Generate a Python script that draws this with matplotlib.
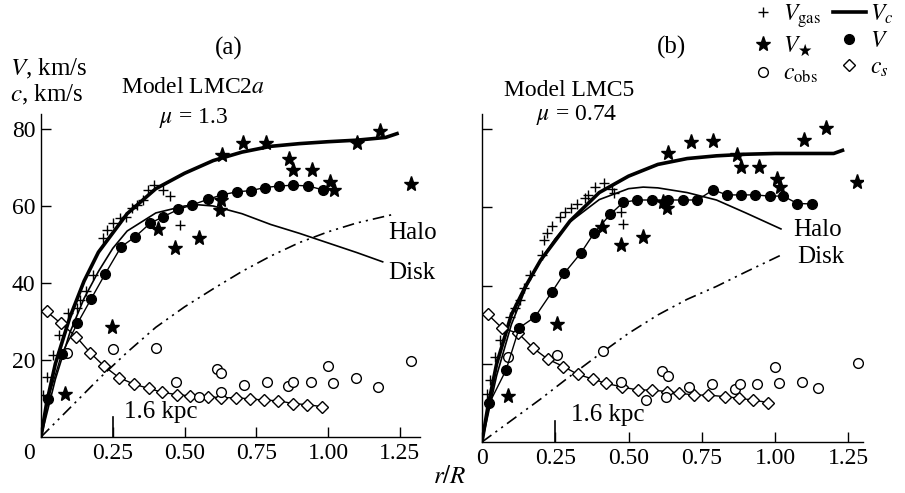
###################################################
# rotation curves of LMC models (a) LMC2a and (b) LMC5
###################################################
import matplotlib.pyplot as plt
from matplotlib.lines import Line2D
import matplotlib.transforms as mtransforms

plt.rcParams['font.family'] = ['Liberation Serif', 'DejaVu Serif']
plt.rcParams['mathtext.fontset'] = 'stix'

# ---------------- panel (a): Model LMC2a ----------------
a_v_r = [0.025, 0.072, 0.127, 0.174, 0.223, 0.279, 0.328, 0.380, 0.425, 0.478, 0.527,
         0.580, 0.630, 0.684, 0.731, 0.780, 0.830, 0.879, 0.931, 0.981]
a_v = [9.9, 21.6, 29.5, 35.8, 42.3, 49.4, 52.0, 55.5, 57.2, 59.1, 60.3,
       61.7, 62.9, 63.7, 64.0, 64.8, 65.2, 65.4, 65.2, 64.2]

a_star_r = [0.084, 0.246, 0.409, 0.467, 0.552, 0.624, 0.627, 0.630, 0.705, 0.783, 0.865,
            0.879, 0.943, 1.007, 1.019, 1.102, 1.179, 1.288]
a_star = [11.1, 28.7, 53.9, 49.0, 51.8, 59.0, 61.6, 73.2, 76.4, 76.4, 72.1,
          69.4, 69.4, 66.3, 64.2, 76.4, 79.4, 65.6]

a_gas_r = [0.008, 0.020, 0.043, 0.064, 0.095, 0.124, 0.136, 0.157, 0.180, 0.217, 0.231,
           0.252, 0.275, 0.296, 0.316, 0.333, 0.354, 0.374, 0.394, 0.426, 0.449, 0.484]
a_gas = [10.9, 15.7, 21.3, 26.5, 32.1, 33.5, 35.6, 37.8, 42.1, 51.6, 53.8,
         55.5, 56.8, 57.2, 59.4, 60.3, 61.6, 64.2, 65.5, 64.2, 62.6, 55.1]

a_cobs_r = [0.089, 0.250, 0.401, 0.469, 0.552, 0.612, 0.626, 0.626, 0.708, 0.786, 0.862,
            0.877, 0.941, 1.001, 1.016, 1.098, 1.175, 1.288]
a_cobs = [21.9, 22.8, 23.0, 14.4, 10.5, 17.6, 16.7, 11.8, 13.4, 14.4, 13.2,
          14.4, 14.4, 18.4, 13.9, 15.2, 13.1, 19.7]

a_cs_r = [0.020, 0.069, 0.122, 0.171, 0.220, 0.272, 0.325, 0.376, 0.423, 0.473, 0.519,
          0.580, 0.627, 0.679, 0.728, 0.775, 0.827, 0.877, 0.926, 0.978]
a_cs = [32.6, 29.5, 26.1, 21.9, 18.4, 15.4, 13.7, 12.6, 11.6, 11.0, 10.7,
        10.5, 10.2, 10.2, 9.9, 9.6, 9.4, 8.7, 8.4, 7.9]

a_vc_r = [0, 0.02, 0.05, 0.1, 0.15, 0.2, 0.3, 0.4, 0.5, 0.6, 0.7, 0.8, 0.9, 1.0, 1.1, 1.2, 1.24]
a_vc = [0, 9, 19, 31, 40.5, 48, 58, 64.5, 68.5, 71.8, 74, 75.5, 76.2, 76.7, 77.1, 77.8, 78.8]

a_disk_r = [0, 0.05, 0.1, 0.15, 0.2, 0.25, 0.3, 0.4, 0.5, 0.55, 0.6, 0.7, 0.8, 0.9, 1.0, 1.1, 1.19]
a_disk = [0, 15, 27, 36, 43, 49, 53.5, 58.2, 60.0, 60.3, 60.0, 58.0, 55.2, 52.9, 50.4, 47.9, 45.5]

a_halo_r = [0, 0.1, 0.2, 0.3, 0.4, 0.5, 0.6, 0.7, 0.8, 0.9, 1.0, 1.1, 1.22]
a_halo = [0, 7.5, 15, 22, 28.5, 33.8, 38.5, 43, 47, 50.5, 53.3, 55.6, 57.7]

# ---------------- panel (b): Model LMC5 ----------------
b_v_r = [0.025, 0.082, 0.127, 0.181, 0.238, 0.280, 0.337, 0.382, 0.437, 0.482, 0.530,
         0.579, 0.636, 0.687, 0.735, 0.789, 0.835, 0.883, 0.932, 0.981, 1.028, 1.076, 1.125]
b_v = [9.9, 18.4, 29.2, 32.0, 38.3, 43.1, 48.3, 53.4, 58.2, 61.3, 61.9,
       61.9, 61.9, 61.9, 61.9, 64.5, 63.2, 63.2, 63.2, 62.9, 62.9, 61.0, 60.9]

b_star_r = [0.090, 0.255, 0.408, 0.473, 0.551, 0.617, 0.630, 0.636, 0.713, 0.789, 0.871,
            0.883, 0.945, 1.006, 1.017, 1.099, 1.174, 1.281]
b_star = [11.8, 30.2, 55.1, 50.4, 52.5, 61.5, 59.8, 73.8, 76.8, 77.1, 73.4,
          70.4, 70.4, 67.2, 65.1, 77.2, 80.2, 66.6]

b_gas_r = [0.016, 0.027, 0.044, 0.061, 0.096, 0.113, 0.130, 0.143, 0.164, 0.204, 0.212,
           0.221, 0.238, 0.266, 0.283, 0.303, 0.323, 0.352, 0.363, 0.386, 0.416, 0.445,
           0.451, 0.473, 0.482]
b_gas = [12.4, 15.9, 21.8, 26.1, 32.0, 34.2, 36.3, 39.3, 42.7, 47.8, 51.7,
         53.4, 55.2, 57.6, 58.9, 59.8, 60.8, 62.3, 63.2, 65.1, 66.2, 64.6,
         63.6, 58.9, 55.8]

b_cobs_r = [0.090, 0.257, 0.412, 0.473, 0.560, 0.613, 0.636, 0.628, 0.708, 0.786, 0.863,
            0.881, 0.940, 1.000, 1.015, 1.091, 1.148, 1.284]
b_cobs = [21.7, 22.3, 23.3, 15.4, 10.7, 18.2, 17.0, 11.4, 14.0, 14.8, 13.6,
          14.8, 14.8, 19.1, 15.0, 15.4, 13.7, 20.3]

b_cs_r = [0.019, 0.069, 0.124, 0.175, 0.224, 0.278, 0.327, 0.378, 0.423, 0.477, 0.531,
          0.579, 0.630, 0.673, 0.725, 0.772, 0.829, 0.878, 0.926, 0.977]
b_cs = [32.7, 29.1, 27.8, 24.0, 21.2, 19.3, 17.3, 16.1, 15.0, 14.1, 13.3,
        13.3, 12.9, 12.5, 12.0, 12.0, 11.6, 11.2, 10.7, 10.1]

b_vc_r = [0, 0.02, 0.05, 0.1, 0.15, 0.2, 0.3, 0.4, 0.5, 0.6, 0.7, 0.8, 0.9, 1.0, 1.1, 1.2, 1.23]
b_vc = [0, 9, 20, 32.5, 40, 46.5, 56.5, 63.8, 68, 71, 72.5, 73.2, 73.6, 73.8, 73.8, 73.8, 74.6]

b_disk_r = [0, 0.05, 0.1, 0.15, 0.2, 0.25, 0.3, 0.4, 0.5, 0.55, 0.6, 0.7, 0.8, 0.9, 1.02]
b_disk = [0, 17, 30, 39.5, 46.5, 52, 56.3, 62, 64.8, 65.2, 65.0, 63.8, 61.9, 58.6, 54.5]

b_halo_r = [0, 0.1, 0.2, 0.3, 0.4, 0.5, 0.6, 0.7, 0.8, 0.9, 1.02]
b_halo = [0, 5.5, 11, 16.8, 22.4, 27.8, 32.5, 36.5, 39.8, 43.5, 47.8]

x_ticks = [0, 0.25, 0.5, 0.75, 1.0, 1.25]
x_labels = ['0', '0.25', '0.50', '0.75', '1.00', '1.25']
y_ticks = [20, 40, 60, 80]

HALO_DASH = [7, 3, 1.3, 3, 1.3, 3]
FS = 17

# marker styles
st_v = dict(marker='o', ms=7, color='k', lw=1.0)
st_star = dict(marker='*', ms=11, color='k', ls='none')
st_gas = dict(marker='+', ms=7, mew=1.0, color='k', ls='none')
st_cobs = dict(marker='o', ms=7, mfc='white', mec='k', mew=1.0, ls='none')
st_cs = dict(marker='D', ms=6.5, mfc='white', mec='k', mew=1.0, color='k', lw=1.0)


def draw_panel(ax, d):
    """Draw one panel with its curves and points."""
    ax.plot(d['vc_r'], d['vc'], color='k', lw=2.6, zorder=3)
    ax.plot(d['disk_r'], d['disk'], color='k', lw=1.2, zorder=3)
    halo, = ax.plot(d['halo_r'], d['halo'], color='k', lw=1.2, zorder=3)
    halo.set_dashes(HALO_DASH)
    ax.plot(d['cs_r'], d['cs'], zorder=4, **st_cs)
    ax.plot(d['cobs_r'], d['cobs'], zorder=4, **st_cobs)
    ax.plot(d['gas_r'], d['gas'], zorder=5, **st_gas)
    ax.plot(d['v_r'], d['v'], zorder=5, **st_v)
    ax.plot(d['star_r'], d['star'], zorder=6, **st_star)

    for s in ['top', 'right']:
        ax.spines[s].set_visible(False)
    for s in ['left', 'bottom']:
        ax.spines[s].set_linewidth(1.0)
    ax.set_xlim(0, d['xmax'])
    ax.set_ylim(0, 84)
    ax.set_xticks(x_ticks)
    ax.set_xticklabels(x_labels)
    ax.set_yticks(y_ticks)
    ax.tick_params(direction='in', length=7, width=1, labelsize=FS, pad=4)

    # 1.6 kpc marker
    ax.plot([0.25, 0.25], [0, 5.3], color='k', lw=1.2, clip_on=False)
    ax.text(d['kpc_pos'][0], d['kpc_pos'][1], '1.6 kpc', fontsize=FS + 1, va='center', ha='left')

    ax.text(d['halo_pos'][0], d['halo_pos'][1], 'Halo', fontsize=FS + 1, va='center', ha='left', clip_on=False)
    ax.text(d['disk_pos'][0], d['disk_pos'][1], 'Disk', fontsize=FS + 1, va='center', ha='left', clip_on=False)
    ax.text(d['tag_pos'][0], d['tag_pos'][1], d['tag'], fontsize=FS + 1, ha='center', va='center', clip_on=False)
    ax.text(d['model_pos'][0], d['model_pos'][1], d['model'], fontsize=FS, ha='center', va='center', clip_on=False)
    ax.text(d['mu_pos'][0], d['mu_pos'][1], d['mu'], fontsize=FS, ha='center', va='center', clip_on=False)


fig = plt.figure(figsize=(9.05, 4.93), dpi=100)
ax_a = fig.add_axes([41 / 905, 56 / 493, 379 / 905, 323.4 / 493])
ax_b = fig.add_axes([482 / 905, 51 / 493, 381 / 905, 328.4 / 493])

panel_a = dict(v_r=a_v_r, v=a_v, star_r=a_star_r, star=a_star, gas_r=a_gas_r, gas=a_gas,
               cobs_r=a_cobs_r, cobs=a_cobs, cs_r=a_cs_r, cs=a_cs, vc_r=a_vc_r, vc=a_vc,
               disk_r=a_disk_r, disk=a_disk, halo_r=a_halo_r, halo=a_halo, xmax=1.32,
               kpc_pos=(0.29, 6.5), halo_pos=(1.209, 53.0), disk_pos=(1.209, 42.6),
               tag='(a)', tag_pos=(0.655, 101), model='Model LMC2$\\it{a}$',
               model_pos=(0.53, 90.8), mu='$\\mu$ = 1.3', mu_pos=(0.53, 82.9))
panel_b = dict(v_r=b_v_r, v=b_v, star_r=b_star_r, star=b_star, gas_r=b_gas_r, gas=b_gas,
               cobs_r=b_cobs_r, cobs=b_cobs, cs_r=b_cs_r, cs=b_cs, vc_r=b_vc_r, vc=b_vc,
               disk_r=b_disk_r, disk=b_disk, halo_r=b_halo_r, halo=b_halo, xmax=1.30,
               kpc_pos=(0.305, 7.0), halo_pos=(1.061, 54.2), disk_pos=(1.075, 47.3),
               tag='(b)', tag_pos=(0.645, 100.8), model='Model LMC5',
               model_pos=(0.297, 89.8), mu='$\\mu$ = 0.74', mu_pos=(0.324, 83.6))

draw_panel(ax_a, panel_a)
draw_panel(ax_b, panel_b)
ax_b.set_yticklabels([])

# shift the "0" of panel (a) a little to the left
lbl0 = ax_a.get_xticklabels()[0]
lbl0.set_transform(lbl0.get_transform() + mtransforms.ScaledTranslation(-0.12, 0, fig.dpi_scale_trans))

# axis labels
fig.text(10 / 905, 1 - 69 / 493, '$V$, km/s', fontsize=FS + 1, va='center', ha='left')
fig.text(10 / 905, 1 - 95 / 493, '$c$, km/s', fontsize=FS + 1, va='center', ha='left')
fig.text(450 / 905, 1 - 477 / 493, '$r/R$', fontsize=FS + 1, va='center', ha='center')

# legend
handles = [
    Line2D([], [], **st_gas),
    Line2D([], [], **st_star),
    Line2D([], [], **st_cobs),
    Line2D([], [], color='k', lw=2.6),
    Line2D([], [], marker='o', ms=7, color='k', ls='none'),
    Line2D([], [], marker='D', ms=6.5, mfc='white', mec='k', mew=1.0, ls='none'),
]
labels = ['$V_{\\rm gas}$', '$V_\\bigstar$', '$c_{\\rm obs}$', '$V_c$', '$V$', '$c_s$']
fig.legend(handles, labels, ncol=2, loc='upper right', bbox_to_anchor=(893 / 905, 1 - 2 / 493),
           frameon=False, fontsize=FS, handlelength=1.4, handletextpad=0.15,
           columnspacing=0.5, labelspacing=0.2, borderpad=0, borderaxespad=0)

plt.savefig('out.png', dpi=100)
